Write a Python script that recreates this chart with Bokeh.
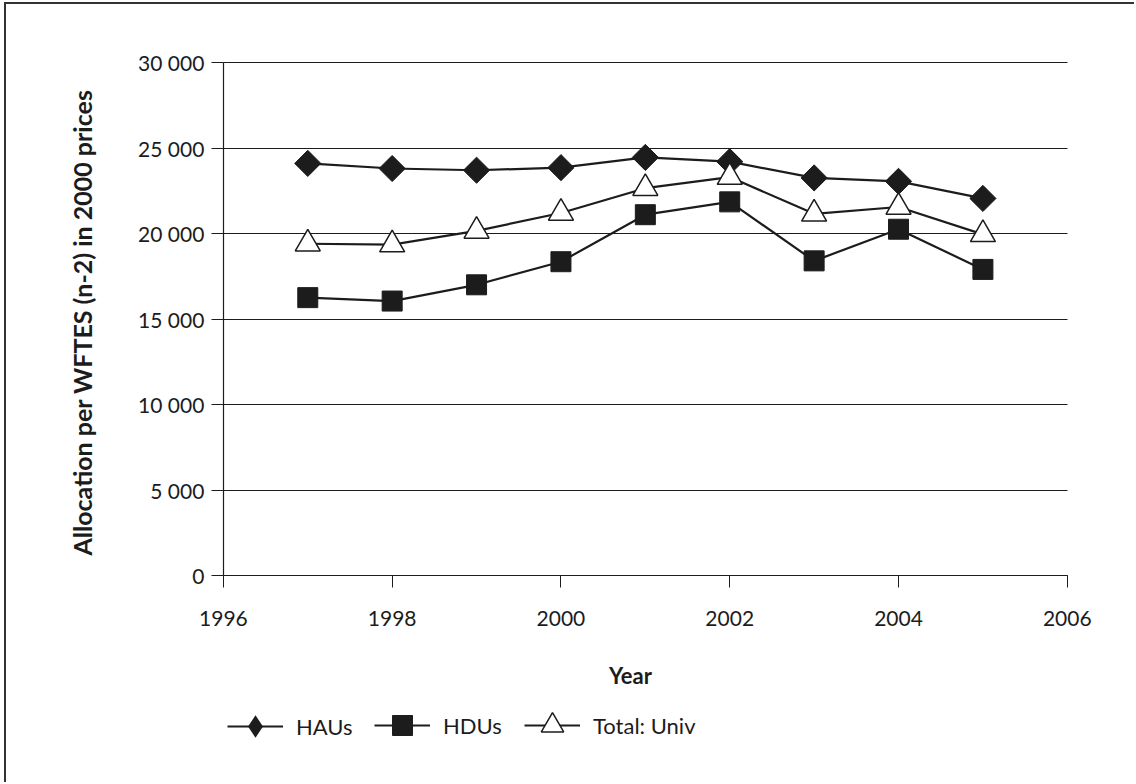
from bokeh.plotting import figure
from bokeh.models import (FixedTicker, CustomJSTickFormatter, Legend, LegendItem,
                          ColumnDataSource, Range1d, Label)
from bokeh.embed import file_html
from bokeh.resources import INLINE
import math

# Allocation per WFTES (n-2), in 2000 prices
years = [1997, 1998, 1999, 2000, 2001, 2002, 2003, 2004, 2005]
haus = [24100, 23800, 23700, 23850, 24450, 24200, 23250, 23050, 22050]
hdus = [16250, 16050, 17000, 18350, 21100, 21850, 18400, 20250, 17900]
total_univ = [19400, 19350, 20150, 21200, 22650, 23300, 21150, 21550, 19950]

series_labels = ["HAUs", "HDUs", "Total: Univ"]
y_ticks = [0, 5000, 10000, 15000, 20000, 25000, 30000]
x_ticks = [1996, 1998, 2000, 2002, 2004, 2006]
x_bounds = (1996, 2006)
y_bounds = (0, 30000)

FONT = "Lato"
INK = "#1c1c1c"

# The frame fills the whole canvas; axes sit at fixed positions inside it so
# that tick labels, titles and the legend row are all drawn unclipped.
X_VIEW = (1993.43, 2006.82)
Y_VIEW = (-12222, 33392)

src = ColumnDataSource(dict(year=years, haus=haus, hdus=hdus, total=total_univ))

p = figure(width=1130, height=780, output_backend="svg", toolbar_location=None,
           x_range=Range1d(*X_VIEW), y_range=Range1d(*Y_VIEW),
           min_border=0)
p.styles = {"margin-left": "4px", "margin-top": "2px",
            "border-left": "2px solid #333", "border-top": "2px solid #333"}
p.outline_line_color = None
p.background_fill_color = "white"
p.border_fill_color = "white"

# grid: horizontal lines only, across the plotted years
p.xgrid.visible = False
p.ygrid.grid_line_color = INK
p.ygrid.grid_line_width = 1
p.ygrid.cross_bounds = x_bounds

# axes
p.yaxis.ticker = FixedTicker(ticks=y_ticks)
p.yaxis.bounds = y_bounds
p.yaxis.fixed_location = x_bounds[0]
p.yaxis.formatter = CustomJSTickFormatter(
    code="return tick.toString().replace(/\\B(?=(\\d{3})+(?!\\d))/g, ' ');")
p.xaxis.ticker = FixedTicker(ticks=x_ticks)
p.xaxis.bounds = x_bounds
p.xaxis.fixed_location = y_bounds[0]
for ax in (p.xaxis, p.yaxis):
    ax.axis_line_color = INK
    ax.axis_line_width = 1.2
    ax.major_tick_line_color = INK
    ax.major_tick_out = 12
    ax.major_tick_in = 0
    ax.minor_tick_line_color = None
    ax.major_label_text_font = FONT
    ax.major_label_text_font_size = "21px"
    ax.major_label_text_color = INK
p.yaxis.major_label_standoff = 7
p.xaxis.major_label_standoff = 23

# axis titles
title_style = dict(x_units="screen", y_units="screen", text_font=FONT,
                   text_font_style="bold", text_color=INK,
                   text_align="center", text_baseline="middle")
p.add_layout(Label(x=75, y=462, angle=math.pi / 2,
                   text="Allocation per WFTES (n-2) in 2000 prices",
                   text_font_size="25px", **title_style))
p.add_layout(Label(x=624, y=109, text="Year", text_font_size="22px",
                   **title_style))

# series
l1 = p.line("year", "haus", source=src, line_color=INK, line_width=2.2)
m1 = p.scatter("year", "haus", source=src, marker="square", angle=math.pi / 4,
               size=18.5, fill_color=INK, line_color=INK)
l2 = p.line("year", "hdus", source=src, line_color=INK, line_width=2.2)
m2 = p.scatter("year", "hdus", source=src, marker="square", size=20,
               fill_color=INK, line_color=INK)
l3 = p.line("year", "total", source=src, line_color=INK, line_width=2.2)
m3 = p.scatter("year", "total", source=src, marker="triangle", size=25,
               fill_color="white", line_color=INK, line_width=1.5)

# legend swatch for the diamond series (legend markers are drawn unrotated)
k1 = p.scatter("year", "haus", source=src, marker="diamond", size=0,
               fill_color=INK, line_alpha=0)


def make_legend(label, renderers, x, y, glyph):
    lg = Legend(items=[LegendItem(label=label, renderers=renderers)],
                location=(x, y), orientation="horizontal")
    lg.glyph_width = 56
    lg.glyph_height = glyph
    lg.label_standoff = 13
    lg.padding = 0
    lg.margin = 0
    lg.border_line_color = None
    lg.background_fill_alpha = 0
    lg.label_text_font = FONT
    lg.label_text_font_size = "22px"
    lg.label_text_color = INK
    p.add_layout(lg, "center")


make_legend(series_labels[0], [l1, k1], 221, 26, 64)
make_legend(series_labels[1], [l2, m2], 368, 34, 50)
make_legend(series_labels[2], [l3, m3], 518, 29, 60)

with open("out.html", "w") as f:
    f.write(file_html(p, INLINE))
